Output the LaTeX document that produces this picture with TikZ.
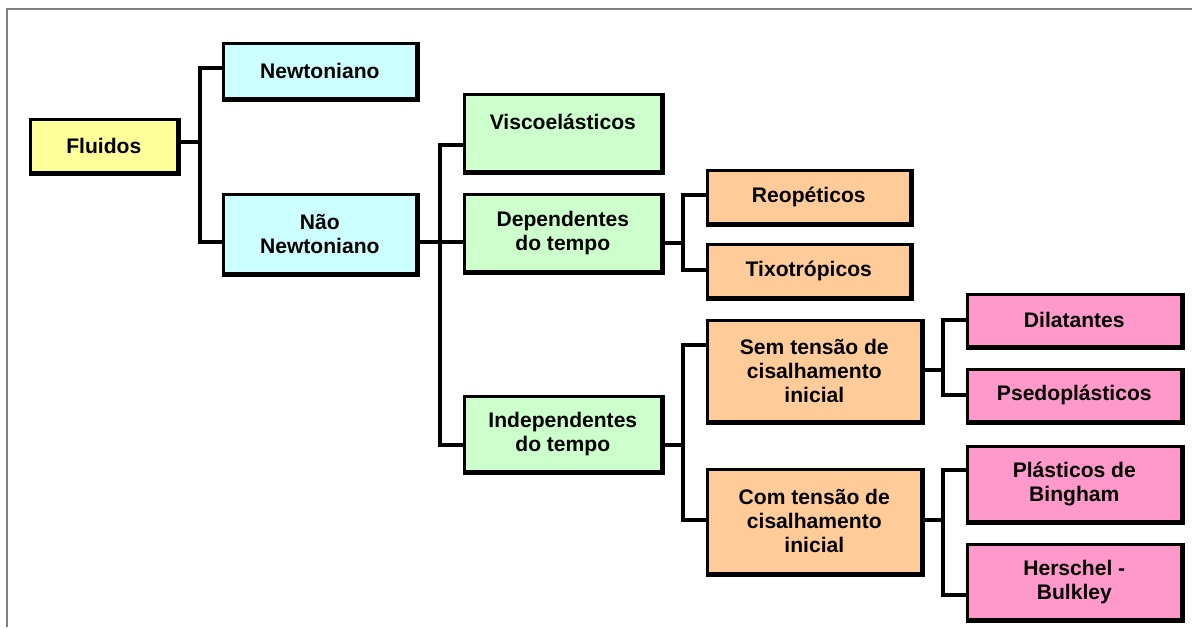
\documentclass[tikz,border=0pt]{standalone}
\usepackage{fontspec}
\setmainfont{Liberation Sans}
\usetikzlibrary{calc}
\definecolor{amarelo}{HTML}{FFFF99}
\definecolor{ciano}{HTML}{CCFFFF}
\definecolor{verde}{HTML}{CCFFCC}
\definecolor{laranja}{HTML}{FFCC99}
\definecolor{rosa}{HTML}{FF99CC}
\begin{document}
\begin{tikzpicture}[x=0.02cm, y=-0.02cm,
  caixa/.style={draw, line width=1.5pt, anchor=north west, align=center, inner sep=2pt,
    font=\fontsize{12}{13.6}\selectfont\bfseries},
  liga/.style={line width=2.8pt, line cap=rect},
  sombra/.style={line width=3pt}]
\useasboundingbox (0,0) rectangle (1192,627);
\fill[white] (0,0) rectangle (1192,627);
\draw[gray, line width=1.2pt] (7,627) -- (7,9) -- (1192,9);

% nivel 1 e 2
\node[caixa, fill=amarelo, minimum width=2.94cm, minimum height=1.06cm] (fl) at (29,118) {Fluidos};
\node[caixa, fill=ciano, minimum width=3.86cm, minimum height=1.10cm] (nw) at (222,42) {Newtoniano};
\node[caixa, fill=ciano, minimum width=3.86cm, minimum height=1.58cm] (nao) at (222,193) {Não\\Newtoniano};
% nivel 3
\node[caixa, fill=verde, minimum width=3.94cm, minimum height=1.54cm, text depth=0.45cm] (vis) at (463,93) {Viscoelásticos};
\node[caixa, fill=verde, minimum width=3.94cm, minimum height=1.54cm] (dep) at (463,193) {Dependentes\\do tempo};
\node[caixa, fill=verde, minimum width=3.94cm, minimum height=1.50cm] (ind) at (463,395) {Independentes\\do tempo};
% nivel 4
\node[caixa, fill=laranja, minimum width=4.06cm, minimum height=1.06cm] (reo) at (706,169) {Reopéticos};
\node[caixa, fill=laranja, minimum width=4.06cm, minimum height=1.06cm] (tix) at (706,243) {Tixotrópicos};
\node[caixa, fill=laranja, minimum width=4.28cm, minimum height=2.02cm] (sem) at (706,319) {Sem tensão de\\cisalhamento\\inicial};
\node[caixa, fill=laranja, minimum width=4.28cm, minimum height=2.08cm] (com) at (706,468) {Com tensão de\\cisalhamento\\inicial};
% nivel 5
\node[caixa, fill=rosa, minimum width=4.28cm, minimum height=1.04cm] (dil) at (966,293) {Dilatantes};
\node[caixa, fill=rosa, minimum width=4.28cm, minimum height=1.04cm] (pse) at (966,368) {Psedoplásticos};
\node[caixa, fill=rosa, minimum width=4.28cm, minimum height=1.50cm] (pla) at (966,445) {Plásticos de\\Bingham};
\node[caixa, fill=rosa, minimum width=4.28cm, minimum height=1.50cm] (her) at (966,543) {Herschel -\\Bulkley};

\foreach \n in {fl,nw,nao,vis,dep,ind,reo,tix,sem,com,dil,pse,pla,her}
  \draw[sombra] (\n.north east) -- (\n.south east) -- (\n.south west);

% ligacoes
\coordinate (j1) at (200,142);
\coordinate (j2) at (440,242);
\coordinate (j3) at (683,243);
\coordinate (j4) at (683,445);
\coordinate (j5) at (943,370);
\coordinate (j6) at (943,520);
\draw[liga] (fl.east |- j1) -- (j1);
\draw[liga] (nw.west |- 0,68) -| (j1) |- (nao.west |- 0,242);
\draw[liga] (nao.east |- j2) -- (j2);
\draw[liga] (vis.west |- 0,145) -| (j2) |- (ind.west |- 0,445);
\draw[liga] (j2) -- (dep.west |- j2);
\draw[liga] (dep.east |- j3) -- (j3);
\draw[liga] (reo.west |- 0,195) -| (j3) |- (tix.west |- 0,270);
\draw[liga] (ind.east |- j4) -- (j4);
\draw[liga] (sem.west |- 0,345) -| (j4) |- (com.west |- 0,520);
\draw[liga] (sem.east |- j5) -- (j5);
\draw[liga] (dil.west |- 0,320) -| (j5) |- (pse.west |- 0,395);
\draw[liga] (com.east |- j6) -- (j6);
\draw[liga] (pla.west |- 0,470) -| (j6) |- (her.west |- 0,595);
\end{tikzpicture}
\end{document}
